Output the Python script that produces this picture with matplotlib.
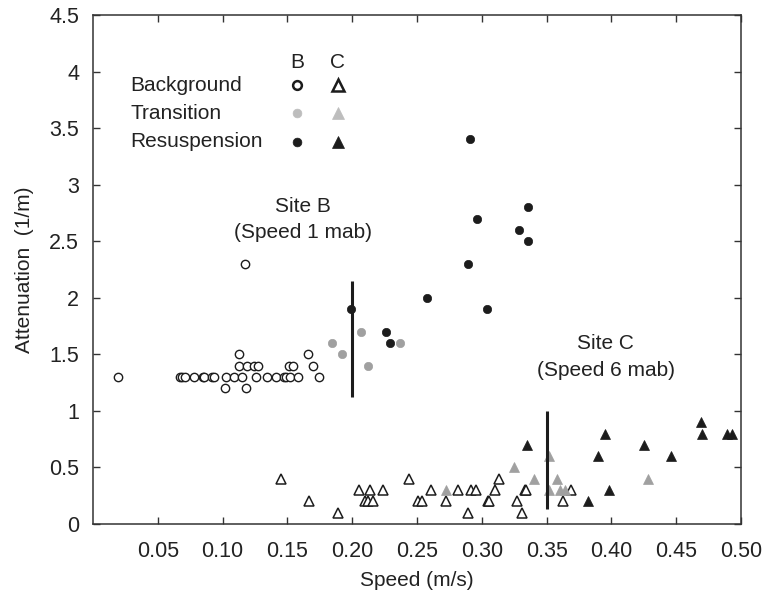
import matplotlib
matplotlib.use("Agg")
import matplotlib.pyplot as plt

plt.rcParams['font.family'] = ['Liberation Sans', 'DejaVu Sans']

# ---- data ----
b_bg_x = [0.019, 0.067, 0.069, 0.071, 0.078, 0.085, 0.086, 0.0915, 0.093, 0.103,
          0.109, 0.115, 0.1256, 0.134, 0.141, 0.147, 0.149, 0.152, 0.158, 0.174,
          0.113, 0.119, 0.124, 0.127, 0.151, 0.154, 0.170,
          0.113, 0.166,
          0.102, 0.118,
          0.117]
b_bg_y = [1.3] * 20 + [1.4] * 7 + [1.5] * 2 + [1.2] * 2 + [2.3]

b_tr_x = [0.1845, 0.192, 0.207, 0.212, 0.237]
b_tr_y = [1.6, 1.5, 1.7, 1.4, 1.6]

b_rs_x = [0.199, 0.226, 0.229, 0.258, 0.291, 0.336, 0.296, 0.329, 0.336, 0.289, 0.304]
b_rs_y = [1.9, 1.7, 1.6, 2.0, 3.4, 2.8, 2.7, 2.6, 2.5, 2.3, 1.9]

c_bg_x = [0.145, 0.167, 0.189, 0.205, 0.214, 0.224, 0.210, 0.212, 0.216, 0.244,
          0.251, 0.254, 0.2605, 0.272, 0.282, 0.2915, 0.2955, 0.289, 0.3045, 0.3055,
          0.310, 0.313, 0.327, 0.331, 0.333, 0.334, 0.3625, 0.369]
c_bg_y = [0.4, 0.2, 0.1, 0.3, 0.3, 0.3, 0.2, 0.2, 0.2, 0.4,
          0.2, 0.2, 0.3, 0.2, 0.3, 0.3, 0.3, 0.1, 0.2, 0.2,
          0.3, 0.4, 0.2, 0.1, 0.3, 0.3, 0.2, 0.3]

c_tr_x = [0.272, 0.325, 0.3405, 0.352, 0.352, 0.358, 0.360, 0.364, 0.428]
c_tr_y = [0.3, 0.5, 0.4, 0.6, 0.3, 0.4, 0.3, 0.3, 0.4]

c_rs_x = [0.335, 0.382, 0.390, 0.395, 0.398, 0.425, 0.446, 0.469, 0.470, 0.489, 0.493]
c_rs_y = [0.7, 0.2, 0.6, 0.8, 0.3, 0.7, 0.6, 0.9, 0.8, 0.8, 0.8]

# threshold lines (x, ymin, ymax)
thr_b = (0.20, 1.12, 2.15)
thr_c = (0.35, 0.13, 1.00)

x_ticks = [0.05, 0.10, 0.15, 0.20, 0.25, 0.30, 0.35, 0.40, 0.45, 0.50]
y_ticks = [0, 0.5, 1, 1.5, 2, 2.5, 3, 3.5, 4, 4.5]

legend_rows = ["Background", "Transition", "Resuspension"]

BLACK = '#1c1c1c'
GRAY = '#a0a0a0'
LGRAY = '#bdbdbd'
FS = 15
TFS = 15.5

fig = plt.figure(figsize=(7.62, 5.94), dpi=100)
ax = fig.add_axes([93 / 762, 70 / 594, (741 - 93) / 762, (524 - 15) / 594])

ms_c = 6.0
ms_t = 7.2
ax.plot(b_bg_x, b_bg_y, 'o', ms=ms_c, mfc='white', mec=BLACK, mew=1.0, ls='none')
ax.plot(b_tr_x, b_tr_y, 'o', ms=ms_c, mfc=GRAY, mec=GRAY, mew=0.5, ls='none')
ax.plot(b_rs_x, b_rs_y, 'o', ms=ms_c, mfc=BLACK, mec=BLACK, mew=0.5, ls='none')
ax.plot(c_bg_x, c_bg_y, '^', ms=ms_t, mfc='white', mec=BLACK, mew=1.1, ls='none')
ax.plot(c_tr_x, c_tr_y, '^', ms=ms_t, mfc=GRAY, mec=GRAY, mew=0.5, ls='none')
ax.plot(c_rs_x, c_rs_y, '^', ms=ms_t, mfc=BLACK, mec=BLACK, mew=0.5, ls='none')

for (xv, y0, y1) in (thr_b, thr_c):
    ax.vlines(xv, y0, y1, color=BLACK, lw=2.2)

ax.text(0.1618, 2.81, "Site B", ha='center', va='center', fontsize=FS, color='#222222')
ax.text(0.1618, 2.58, "(Speed 1 mab)", ha='center', va='center', fontsize=FS, color='#222222')
ax.text(0.3955, 1.60, "Site C", ha='center', va='center', fontsize=FS, color='#222222')
ax.text(0.3955, 1.36, "(Speed 6 mab)", ha='center', va='center', fontsize=FS, color='#222222')

# custom legend (axes coordinates)
lx_lab, lx_b, lx_c = 0.058, 0.315, 0.378
ly = [0.862, 0.807, 0.751]
ax.text(lx_b, 0.907, "B", transform=ax.transAxes, ha='center', va='center', fontsize=FS, color='#222222')
ax.text(lx_c, 0.907, "C", transform=ax.transAxes, ha='center', va='center', fontsize=FS, color='#222222')
styles_b = [dict(mfc='white', mec=BLACK, mew=1.8), dict(mfc=LGRAY, mec=LGRAY, mew=0.5),
            dict(mfc=BLACK, mec=BLACK, mew=0.5)]
styles_c = [dict(mfc='white', mec=BLACK, mew=1.8), dict(mfc=LGRAY, mec=LGRAY, mew=0.5),
            dict(mfc=BLACK, mec=BLACK, mew=0.5)]
for lab, yy, sb, sc in zip(legend_rows, ly, styles_b, styles_c):
    ax.text(lx_lab, yy, lab, transform=ax.transAxes, ha='left', va='center', fontsize=FS, color='#222222')
    ax.plot([lx_b], [yy], 'o', ms=6.3, transform=ax.transAxes, **sb)
    ax.plot([lx_c], [yy], '^', ms=8.8, transform=ax.transAxes, **sc)

ax.set_xlim(0, 0.5)
ax.set_ylim(0, 4.5)
ax.set_xticks(x_ticks)
ax.set_xticklabels([f"{v:.2f}" for v in x_ticks])
ax.set_yticks(y_ticks)
ax.set_yticklabels([f"{v:g}" for v in y_ticks])
ax.tick_params(direction='in', length=5, width=1.0, color='#333333', labelsize=TFS,
               labelcolor='#222222', top=True, right=True)
ax.tick_params(axis='x', pad=12)
ax.tick_params(axis='y', pad=10)
for s in ax.spines.values():
    s.set_linewidth(1.1)
    s.set_color('#333333')

ax.set_xlabel("Speed (m/s)", fontsize=FS, color='#222222', labelpad=7)
ax.set_ylabel("Attenuation  (1/m)", fontsize=FS, color='#222222', labelpad=11)

fig.savefig("out.png", dpi=100)
